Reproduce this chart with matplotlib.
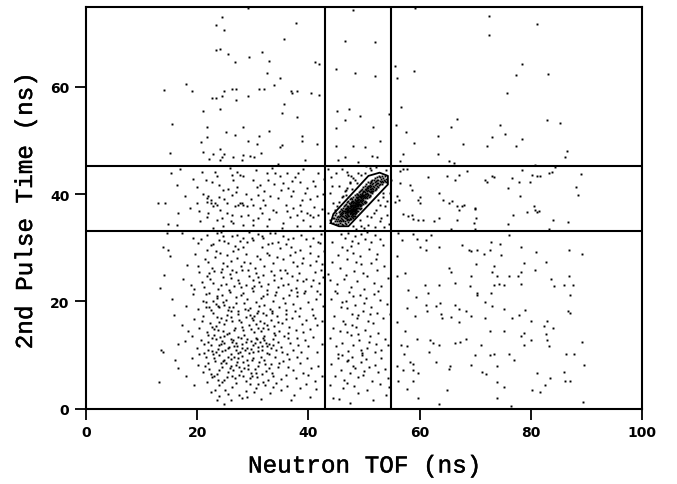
import numpy as np
import matplotlib
matplotlib.use("Agg")
import matplotlib.pyplot as plt
import matplotlib.patheffects as pe

# ---------------- data ----------------
x_ticks = [0, 20, 40, 60, 80, 100]
y_ticks = [0, 20, 40, 60]
x_label = "Neutron TOF (ns)"
y_label = "2nd Pulse Time (ns)"

tof_cuts = [43.0, 54.8]          # vertical gate lines
pulse_cuts = [33.2, 45.3]        # horizontal gate lines

# 2D gate polygon around the coincidence peak
gate_tof = [44.0, 44.5, 50.8, 52.8, 54.3, 54.3, 47.2, 45.5, 44.0]
gate_pulse = [34.6, 36.3, 43.4, 44.0, 43.4, 41.8, 34.0, 34.0, 34.6]

# events: (neutron TOF, 2nd pulse time)
upper_left = [
    (24.5,73.0),(23.3,71.5),(24.8,70.7),(37.7,71.9),(35.7,69.0),(23.3,66.8),(24.1,67.0),(25.6,66.2),
    (31.7,66.5),(26.8,64.6),(29.3,65.6),(33.0,64.9),(41.1,64.7),(41.9,64.2),(32.6,62.6),(34.9,61.7),
    (33.8,60.4),(17.9,60.6),(19.0,59.2),(14.0,59.4),(24.8,59.2),(26.2,59.7),(27.0,59.7),(31.1,59.7),
    (32.1,59.6),(36.9,59.2),(37.1,58.9),(22.7,58.0),(23.3,58.0),(24.5,58.3),(26.9,57.6),(29.1,58.3),
    (38.0,59.2),(40.5,58.9),(35.7,56.8),(24.1,55.8),(21.0,55.5),(35.3,55.2),(38.0,54.3),(15.5,53.1),
    (21.7,52.6),(28.3,52.6),(25.2,51.5),(26.8,51.0),(31.1,50.9),(33.0,51.8),(38.8,50.9),(21.7,50.6),
    (29.1,50.0),(30.7,49.4),(35.3,49.2),(24.1,48.5),(20.6,49.7),(22.9,47.5),(21.0,47.9),(24.8,47.5),
    (26.4,46.9),(28.3,47.3),(29.5,47.2),(30.3,46.9),(15.1,47.6),(22.1,46.6),(24.1,46.4),(24.5,46.9),
    (28.0,46.4),(39.4,46.4),(34.5,45.6),(41.6,49.4),(31.4,47.6),(34.9,48.7),(38.8,50.0),(41.9,58.5),
    (29.1,74.8),
]
upper_mid = [
    (48.1,74.4),(46.6,68.6),(52.0,68.4),(45.0,63.3),(48.3,62.6),(52.0,62.0),(45.2,55.5),(47.3,55.8),
    (49.3,54.6),(46.6,53.9),(51.6,52.6),(45.0,52.4),(52.8,50.0),(45.0,48.9),(48.1,48.9),(50.1,48.7),
    (51.4,47.2),(46.6,46.9),(52.4,46.9),(45.4,46.3),(54.5,54.9),(49.0,46.0),
]
upper_right = [
    (59.2,74.8),(72.4,73.2),(81.1,71.7),(72.5,69.6),(78.4,64.2),(77.3,62.2),(83.1,62.5),(75.7,58.9),
    (55.5,63.9),(55.9,61.6),(59.0,62.9),(56.6,56.2),(66.8,54.1),(74.5,52.8),(65.6,52.6),(82.9,53.9),
    (85.2,53.2),(55.7,52.8),(57.5,51.5),(63.3,50.8),(75.3,51.2),(73.0,50.7),(78.4,50.3),(67.8,49.4),
    (72.2,49.0),(77.4,49.0),(59.0,49.5),(63.3,47.4),(65.2,46.1),(66.2,45.8),(86.6,48.1),(86.2,46.9),
    (57.1,47.5),(56.4,46.1),(80.7,45.5),
]
mid_left = [
    (15.2,43.9),(16.9,44.7),(16.3,41.7),(19.9,41.4),(20.8,44.2),(21.6,42.7),(22.0,39.6),(22.4,38.9),
    (21.7,39.3),(22.6,42.2),(23.2,44.2),(23.6,43.3),(24.0,41.7),(23.2,38.3),(24.7,40.8),(25.3,38.3),
    (25.9,44.8),(26.2,43.6),(26.5,42.7),(27.1,44.2),(27.7,43.6),(28.3,43.3),(28.0,38.3),(27.4,38.0),
    (26.2,39.9),(30.1,42.7),(30.7,41.4),(31.3,41.7),(31.9,38.9),(32.5,43.9),(33.4,44.8),(34.0,43.9),
    (34.9,43.3),(35.5,42.0),(36.1,43.9),(36.4,41.1),(37.3,40.5),(38.2,43.9),(38.5,42.2),(38.8,38.9),
    (39.7,41.1),(40.9,42.4),(41.5,39.6),(41.8,43.9),(33.1,39.6),(30.1,38.0),(13.0,38.3),(14.2,38.3),
    (16.6,36.5),(18.7,37.4),(19.9,38.3),(21.7,38.6),(22.4,38.3),(22.9,37.7),(23.5,38.0),(24.1,37.1),
    (25.3,36.5),(26.2,36.1),(26.8,37.7),(27.7,38.3),(28.3,38.0),(29.2,36.1),(30.1,35.2),(20.5,34.9),
    (21.7,35.8),(23.5,35.2),(24.7,34.0),(26.5,34.6),(28.3,34.3),(31.3,37.4),(31.6,36.5),(32.2,38.0),
    (33.7,37.1),(35.5,34.6),(36.7,35.8),(37.3,37.4),(37.9,36.1),(38.5,38.0),(39.1,35.2),(39.7,36.5),
    (40.3,36.1),(40.9,35.8),(41.8,36.1),(42.1,34.0),(40.3,34.0),(37.9,34.0),(35.2,33.7),(32.5,34.0),
    (30.1,34.3),(22.9,33.7),(16.3,34.3),(14.8,34.5),(21.0,40.1),(23.9,39.5),(25.6,40.9),(27.2,41.3),
    (28.8,40.0),(29.6,39.1),(30.5,44.5),(32.0,40.6),(33.9,41.8),(34.6,39.3),(35.9,37.9),(36.8,39.7),
    (37.6,43.2),(39.0,44.6),(40.2,39.0),(41.2,41.6),(42.5,37.3),(42.8,42.9),(19.2,42.8),(17.8,39.7),
    (24.5,35.6),(26.0,35.0),(27.9,35.9),(29.0,37.8),(31.0,35.6),(33.0,35.3),(34.2,36.6),(36.2,36.8),
    (38.6,36.9),(41.0,37.6),(42.6,40.1),(20.3,36.9),(22.0,36.4),(24.9,39.0),(26.9,40.3),(30.9,39.8),
    (32.8,42.6),(35.0,40.7),(37.1,42.4),(39.3,40.2),
]
mid_mid = [
    (43.9,40.2),(44.4,38.3),(44.7,37.1),(43.5,36.5),(44.4,35.5),(43.8,35.2),(47.1,43.6),(47.7,43.3),
    (48.3,42.7),(47.4,42.0),(46.8,40.8),(46.2,39.6),(48.9,43.9),(50.4,45.2),(51.3,44.5),(52.2,45.0),
    (53.9,44.5),(54.9,42.7),(54.6,40.2),(53.7,37.7),(52.2,37.1),(51.3,35.8),(50.7,34.3),(49.5,34.0),
    (48.6,33.4),(52.8,34.9),(54.1,36.1),(52.5,38.9),(44.0,43.1),(45.5,41.5),(46.0,44.6),(53.6,33.8),
    (45.5,38.5),(46.0,39.5),(46.5,40.5),(47.0,41.2),(47.5,42.3),(48.0,43.0),(45.2,37.8),(46.8,39.8),
    (47.8,41.0),(48.7,42.0),(49.5,43.5),(50.2,44.0),(51.0,44.8),(52.8,38.0),(53.5,39.5),(54.2,38.7),
    (51.8,36.5),(50.5,36.0),(49.2,35.2),(48.0,34.0),(53.0,35.5),(54.5,34.5),(44.2,41.5),(45.0,43.9),
    (43.6,44.6),(46.9,44.2),(53.4,40.2),(50.0,33.6),(52.0,33.9),
]
peak = [
    (44.5,34.6),(44.6,35.5),(44.7,34.9),(44.8,36.1),(44.9,35.3),(45.0,34.5),(45.0,36.4),(45.1,35.7),
    (45.2,35.0),(45.3,36.0),(45.3,34.4),(45.4,35.4),(45.5,36.6),(45.5,34.9),(45.5,35.8),
    (45.6,35.2),(45.6,36.9),(45.7,34.6),(45.7,35.9),(45.8,36.5),(45.8,35.0),(45.9,37.3),(45.9,35.6),
    (46.0,34.4),(46.0,36.2),(46.0,37.0),(46.1,35.4),(46.1,36.7),(46.2,34.9),(46.2,35.9),(46.2,37.5),
    (46.3,36.4),(46.3,35.2),(46.3,34.3),(46.4,36.9),(46.4,35.7),(46.4,37.8),(46.5,36.1),(46.5,34.7),
    (46.5,35.5),(46.5,37.2),(45.9,36.1),(46.1,35.9),(46.3,36.8),(45.7,36.3),
    (46.6,36.5),(46.6,35.0),(46.6,37.9),(46.7,36.0),(46.7,37.3),(46.7,34.5),(46.8,36.7),(46.8,35.5),
    (46.8,38.2),(46.9,36.3),(46.9,37.0),(46.9,35.2),(47.0,36.8),(47.0,38.5),(47.0,35.8),(47.0,37.4),
    (47.1,36.1),(47.1,34.8),(47.1,37.8),(47.2,36.6),(47.2,35.4),(47.2,37.1),(47.2,38.8),(47.3,36.0),
    (47.3,37.5),(47.3,36.9),(47.4,35.6),(47.4,38.1),(47.4,36.4),(47.4,37.0),(47.5,36.8),(47.5,35.3),
    (47.5,37.7),(47.5,39.0),(46.6,36.9),(46.8,37.5),(47.0,36.2),(47.2,36.0),(47.4,37.4),(46.9,37.7),
    (47.1,36.6),(47.3,35.2),(46.7,36.6),(47.5,36.2),(47.1,37.3),(46.9,36.7),(47.3,38.4),(47.0,35.3),
    (47.2,37.6),(47.4,36.8),
    (47.6,37.2),(47.6,36.0),(47.6,38.4),(47.6,35.4),(47.7,37.6),(47.7,36.5),(47.7,39.2),(47.7,37.0),
    (47.8,36.2),(47.8,38.0),(47.8,37.3),(47.8,35.7),(47.9,37.8),(47.9,36.8),(47.9,38.7),(47.9,36.1),
    (48.0,37.4),(48.0,36.5),(48.0,38.3),(48.0,39.5),(48.0,35.5),(48.1,37.0),(48.1,38.0),(48.1,36.3),
    (48.1,37.6),(48.2,38.6),(48.2,36.9),(48.2,37.3),(48.2,35.9),(48.3,37.9),(48.3,36.6),(48.3,39.0),
    (48.3,37.2),(48.4,38.3),(48.4,36.2),(48.4,37.7),(48.4,39.8),(48.5,37.0),(48.5,38.1),(48.5,36.5),
    (48.5,38.8),(47.6,36.7),(47.8,38.5),(48.0,37.0),(48.2,37.9),(48.4,37.1),(47.7,37.9),(47.9,37.3),
    (48.1,38.8),(48.3,36.0),(47.6,37.8),(48.0,38.0),(48.2,36.4),(48.4,38.9),(47.8,36.7),(48.1,37.3),
    (48.3,38.4),(47.9,37.0),(48.5,37.5),(47.7,38.5),(48.2,37.6),(48.0,36.9),(48.4,36.8),(47.8,39.0),
    (48.1,36.0),(48.3,37.6),
    (48.6,38.3),(48.6,37.2),(48.6,39.4),(48.6,36.6),(48.7,38.0),(48.7,38.9),(48.7,37.5),(48.7,40.1),
    (48.8,37.8),(48.8,38.6),(48.8,36.9),(48.8,39.3),(48.9,38.2),(48.9,37.4),(48.9,39.8),(48.9,38.9),
    (49.0,38.5),(49.0,37.7),(49.0,39.4),(49.0,36.9),(49.1,38.1),(49.1,39.0),(49.1,40.3),(49.1,37.5),
    (49.2,38.8),(49.2,38.2),(49.2,39.6),(49.3,37.9),(49.3,38.9),(49.3,40.5),(49.3,37.3),(49.4,39.2),
    (49.4,38.5),(49.4,39.9),(49.5,38.0),(49.5,39.5),(49.5,38.9),(49.5,40.8),(48.6,38.8),(48.8,38.1),
    (49.0,39.0),(49.2,37.7),(49.4,38.0),(48.7,39.5),(48.9,37.9),(49.1,38.6),(49.3,39.4),(48.6,37.8),
    (49.0,38.2),(49.2,40.0),(49.4,37.5),(48.8,40.0),(49.1,39.6),(48.9,38.5),
    (49.6,39.0),(49.6,40.2),(49.6,38.3),(49.7,39.6),(49.7,38.7),(49.7,41.0),(49.8,39.3),(49.8,40.4),
    (49.8,38.1),(49.9,39.9),(49.9,38.9),(49.9,41.3),(50.0,39.5),(50.0,40.6),(50.0,38.5),(50.1,40.0),
    (50.1,39.2),(50.1,41.6),(50.2,40.3),(50.2,38.8),(50.2,39.7),(50.3,40.8),(50.3,39.4),(50.3,41.9),
    (50.4,40.1),(50.4,38.6),(50.5,40.5),(50.5,39.6),(50.5,41.2),(49.7,40.0),(49.9,40.5),(50.1,38.4),
    (50.3,40.1),(50.0,39.9),(49.6,39.6),(50.4,40.9),(49.8,39.7),(50.2,41.0),
    (50.6,40.2),(50.6,41.4),(50.6,39.3),(50.7,40.8),(50.7,39.8),(50.8,41.1),(50.8,40.0),(50.8,42.2),
    (50.9,40.6),(50.9,39.5),(51.0,41.3),(51.0,40.3),(51.0,42.0),(51.1,40.9),(51.1,39.9),(51.2,41.6),
    (51.2,40.5),(51.3,42.4),(51.3,41.0),(51.4,40.2),(51.4,41.8),(51.5,41.2),(51.5,40.6),(51.5,42.6),
    (50.7,41.6),(50.9,41.5),(51.1,41.7),(51.3,40.4),(51.0,39.7),(51.2,42.2),
    (51.6,41.5),(51.6,40.6),(51.7,42.1),(51.7,41.0),(51.8,42.7),(51.8,41.4),(51.9,40.8),(51.9,42.2),
    (52.0,41.7),(52.0,43.0),(52.1,41.2),(52.1,42.4),(52.2,41.9),(52.2,40.9),(52.3,42.7),(52.3,41.5),
    (52.4,43.2),(52.4,42.0),(52.5,41.4),(52.5,42.6),
    (52.6,42.1),(52.7,43.4),(52.7,41.7),(52.8,42.5),(52.9,41.9),(52.9,43.1),(53.0,42.3),(53.1,42.8),
    (53.2,41.8),(53.2,43.4),(53.3,42.4),(53.4,43.0),(53.5,42.2),(53.6,42.7),(53.7,43.3),(53.8,42.5),
    (53.9,42.9),(54.0,42.3),
]
mid_right = [
    (56.5,44.4),(57.1,44.7),(57.7,44.7),(61.6,43.2),(64.9,43.4),(66.4,42.7),(67.0,43.6),(68.5,44.4),
    (71.8,42.7),(72.1,42.2),(73.0,43.3),(73.3,43.2),(76.6,43.0),(77.8,42.2),(78.4,44.5),(79.9,42.2),
    (80.2,43.6),(81.1,43.4),(81.7,43.4),(83.2,44.0),(83.8,44.2),(84.3,45.0),(89.1,43.7),(88.2,41.4),
    (88.4,39.9),(56.5,42.0),(58.2,41.7),(58.7,40.7),(60.0,39.4),(63.5,40.2),(64.2,38.9),(65.2,38.3),
    (65.8,38.8),(66.7,37.7),(67.9,38.0),(70.0,37.4),(75.9,41.1),(78.1,39.6),(55.9,39.6),(56.3,38.9),
    (59.8,38.9),(60.1,38.3),(55.6,38.6),(67.7,37.8),(67.1,37.1),(69.9,37.3),(57.1,36.3),(58.0,36.0),
    (58.6,36.1),(58.9,35.4),(59.8,35.2),(60.7,35.1),(62.6,34.9),(63.4,35.5),(66.8,35.1),(69.7,34.6),
    (70.1,35.5),(75.9,34.5),(76.8,36.1),(79.3,36.6),(80.8,37.0),(81.1,36.6),(84.0,35.1),(86.7,34.8),
    (83.2,33.5),(70.0,33.4),(65.6,33.4),(80.6,37.8),(81.5,36.8),
]
low_left = [
    (14.6,32.7),(17.2,32.7),(19.3,31.8),(21.7,32.4),(23.5,32.7),(24.7,32.2),(26.2,32.1),(27.1,32.4),
    (28.3,31.8),(30.1,31.5),(31.6,32.1),(33.1,32.7),(34.0,32.7),(35.5,32.1),(36.4,31.6),(37.3,31.8),
    (41.8,31.0),(27.7,31.2),(28.9,31.0),(22.4,30.5),(25.6,30.8),(29.4,32.9),(32.8,30.6),(38.6,32.4),
    (40.2,30.4),(42.3,32.5),(23.9,31.4),(26.8,30.3),(30.9,32.6),(34.6,31.1),(36.9,30.2),(39.5,31.7),
    (20.1,30.9),(31.9,31.9),(24.3,32.9),
    (13.9,30.2),(14.8,29.6),(22.9,30.6),(24.1,29.0),(26.5,29.3),(28.3,30.2),(27.1,28.1),(24.7,27.1),
    (21.7,29.6),(31.6,30.2),(32.5,29.0),(34.9,29.9),(36.7,28.7),(38.5,29.6),(40.3,29.0),(41.8,28.4),
    (42.1,30.9),(18.1,26.8),(20.2,26.5),(25.3,26.5),(29.5,27.1),(31.3,27.8),(33.7,27.1),(35.5,27.8),
    (37.9,26.5),(40.3,26.8),(34.9,25.9),(15.1,28.4),(23.2,28.3),(26.0,27.6),(28.8,28.9),(30.4,26.2),
    (22.0,27.3),(37.2,27.4),(39.1,28.1),(42.5,26.9),(33.0,28.6),(24.4,26.0),(27.8,26.6),(19.6,28.9),
    (14.0,25.0),(13.3,22.5),(17.5,24.2),(18.8,23.0),(20.4,25.5),(21.2,22.6),(22.3,24.1),(23.1,25.7),
    (23.8,22.3),(24.6,24.6),(25.2,23.3),(25.9,25.1),(26.6,22.8),(27.3,24.0),(28.0,25.8),(28.7,23.1),
    (29.3,24.7),(29.9,22.4),(30.6,25.3),(31.2,23.6),(31.9,24.9),(32.5,22.1),(33.2,25.6),(33.8,23.9),
    (34.5,22.7),(35.1,24.4),(35.8,25.9),(36.4,23.2),(37.0,24.8),(37.7,22.5),(38.3,25.2),(39.0,23.7),
    (39.6,24.1),(40.4,22.9),(41.1,25.4),(41.9,23.5),(42.6,24.6),(22.8,23.5),(26.1,24.3),(30.1,23.9),
    (33.9,25.0),(36.9,22.2),(24.2,25.4),(27.9,22.6),(31.5,22.9),(21.8,24.8),(19.5,22.3),(40.8,24.0),
    (15.5,20.5),(17.9,19.2),(19.3,21.4),(20.2,18.6),(21.0,20.1),(21.6,19.8),(22.1,21.5),(22.5,18.3),
    (22.9,20.0),(23.3,19.5),(23.6,20.6),(24.0,18.9),(24.4,21.1),(24.8,19.3),(25.1,20.2),(25.5,18.4),
    (25.9,21.7),(26.4,19.0),(26.9,20.8),(27.4,18.2),(27.9,21.2),(28.4,19.6),(28.9,20.5),(29.5,18.7),
    (30.0,21.9),(30.5,19.8),(31.0,18.1),(31.5,20.7),(32.0,19.3),(32.6,21.4),(33.1,18.6),(33.7,20.1),
    (34.2,21.8),(34.8,19.0),(35.4,20.6),(36.0,18.3),(36.6,21.2),(37.2,19.5),(37.9,20.9),(38.5,18.8),
    (39.2,21.6),(39.9,19.9),(40.6,18.5),(41.3,20.4),(42.0,21.3),(42.6,19.1),(23.8,19.2),(24.6,19.9),
    (22.2,19.0),(29.2,18.4),(31.8,21.0),(35.8,19.6),(27.0,19.7),(33.5,18.2),(38.0,21.8),(25.8,18.9),
    (15.8,17.5),(17.2,15.6),(18.3,14.5),(19.4,16.7),(20.3,15.1),(21.1,17.2),(21.7,14.3),(22.3,16.0),
    (22.8,17.8),(23.3,15.4),(23.8,14.7),(24.3,16.9),(24.8,15.8),(25.3,17.4),(25.8,14.1),(26.3,16.3),
    (26.8,15.0),(27.3,17.7),(27.8,16.1),(28.3,14.6),(28.8,17.1),(29.3,15.5),(29.8,16.8),(30.3,14.2),
    (30.8,17.9),(31.3,16.4),(31.8,15.1),(32.3,17.5),(32.8,14.8),(33.3,16.6),(33.8,15.3),(34.3,17.3),
    (34.8,14.4),(35.3,16.0),(35.9,17.6),(36.5,15.2),(37.1,16.9),(37.7,14.6),(38.3,17.2),(38.9,15.7),
    (39.5,16.5),(40.2,14.9),(40.9,17.4),(41.6,15.6),(42.4,16.3),(24.0,16.2),(26.0,17.0),(28.0,15.2),
    (30.0,16.6),(31.9,17.8),(33.9,14.0),(36.0,16.7),(23.0,14.9),(29.5,17.5),(31.0,15.0),(32.0,16.0),
    (30.6,15.7),(31.4,14.5),
    (13.5,11.0),(13.8,10.5),(16.5,12.0),(17.8,12.6),(19.0,13.5),(19.9,11.2),(20.6,12.8),(21.3,10.4),
    (21.9,13.7),(22.4,11.8),(22.9,10.2),(23.3,12.9),(23.7,11.1),(24.1,13.3),(24.5,10.7),(24.9,12.3),
    (25.3,13.9),(25.7,11.5),(26.1,10.1),(26.5,12.7),(26.9,11.0),(27.3,13.4),(27.7,10.6),(28.1,12.1),
    (28.5,13.8),(28.9,11.3),(29.3,10.3),(29.7,12.6),(30.1,11.9),(30.5,13.1),(30.9,10.8),(31.3,12.4),
    (31.7,11.6),(32.1,13.6),(32.5,10.4),(32.9,12.0),(33.3,11.2),(33.7,13.0),(34.1,10.9),(34.6,12.5),
    (35.1,11.4),(35.6,13.5),(36.1,10.2),(36.7,12.2),(37.3,11.0),(37.9,13.2),(38.6,10.6),(39.3,12.8),
    (40.0,11.7),(40.8,13.4),(41.6,10.5),(42.4,12.1),(22.0,12.5),(23.0,13.8),(24.0,11.9),(25.0,10.9),
    (26.0,13.0),(27.0,12.2),(28.0,11.2),(29.0,12.9),(30.0,10.6),(31.0,11.4),(32.0,12.8),(33.0,10.1),
    (34.0,13.7),(26.6,11.7),(28.6,10.9),(24.4,12.6),(30.4,12.3),(32.6,11.7),(22.6,10.8),(27.4,10.3),
    (31.9,13.2),
    (13.2,5.0),(16.0,9.0),(16.5,7.5),(17.9,6.1),(19.0,9.5),(20.1,8.2),(21.0,6.8),(21.6,9.6),
    (22.2,7.4),(22.7,5.9),(23.2,8.9),(23.6,6.5),(24.0,9.9),(24.4,7.8),(24.8,5.3),(25.2,8.4),
    (25.6,6.9),(26.0,9.3),(26.4,7.1),(26.8,5.6),(27.2,8.7),(27.6,6.2),(28.0,9.8),(28.4,7.5),
    (28.8,5.1),(29.2,8.1),(29.6,6.6),(30.0,9.4),(30.4,7.3),(30.8,5.8),(31.2,8.6),(31.6,6.4),
    (32.0,9.1),(32.4,7.0),(32.8,5.4),(33.2,8.3),(33.6,6.0),(34.0,9.7),(34.5,7.7),(35.0,5.5),
    (35.5,8.8),(36.0,6.3),(36.6,9.2),(37.2,7.2),(37.8,5.7),(38.4,8.5),(39.0,6.7),(39.7,9.5),
    (40.4,7.6),(41.1,5.2),(41.8,8.0),(42.5,6.1),(23.9,7.2),(24.9,9.0),(25.9,7.6),(26.9,8.2),
    (27.9,7.0),(28.9,9.0),(29.9,6.1),(30.9,8.0),(31.9,5.0),(33.0,7.5),(24.2,8.4),(26.2,6.0),
    (28.2,8.7),(25.5,9.6),(27.3,9.4),(23.1,6.0),(29.5,5.6),(22.0,8.5),
    (19.5,4.3),(23.5,1.5),(24.8,0.8),(23.2,3.5),(24.0,4.4),(25.6,2.7),(26.3,4.1),(27.5,2.5),
    (28.7,3.2),(29.5,4.6),(30.6,3.9),(31.5,1.8),(32.2,4.3),(33.1,2.9),(34.2,4.8),(35.0,3.5),
    (36.2,4.2),(37.4,2.6),(38.5,3.8),(39.6,4.5),(40.3,2.2),(41.4,3.6),(25.0,3.5),(27.0,4.8),
    (28.0,1.9),
    (20.7,31.6),(21.4,27.9),(22.6,26.2),(23.4,29.4),(24.9,31.2),(25.4,28.7),(26.3,25.8),(27.4,29.8),
    (28.5,27.4),(29.8,31.9),(30.7,28.4),(32.1,26.6),(33.5,30.9),(34.4,28.2),(35.9,30.6),(37.6,29.2),
    (38.9,27.1),(40.8,31.8),(41.4,27.6),(42.8,29.3),
    (20.9,23.6),(21.6,21.4),(22.1,25.2),(23.5,21.0),(24.3,23.0),(25.7,22.1),(26.9,25.5),(27.6,23.4),
    (28.3,21.6),(29.1,25.9),(30.3,22.8),(31.0,24.6),(32.8,23.2),(34.0,21.2),(35.5,23.0),(36.2,25.3),
    (38.0,23.9),(39.4,22.0),(41.5,21.9),(42.2,25.8),
    (20.8,16.4),(21.5,18.9),(22.6,15.2),(23.5,17.1),(24.6,14.4),(25.1,16.5),(26.1,18.1),(26.7,14.7),
    (27.6,16.6),(28.6,18.5),(29.6,14.8),(30.2,17.2),(31.1,19.2),(32.5,15.6),(33.4,17.9),(34.6,16.2),
    (36.3,14.1),(37.5,18.1),(39.1,14.3),(41.1,16.9),
    (20.4,10.2),(21.2,12.1),(22.0,11.0),(22.7,13.1),(23.4,10.5),(24.2,12.0),(24.8,13.6),(25.5,11.2),
    (26.3,12.4),(27.1,11.6),(27.9,13.1),(28.7,12.5),(29.6,11.1),(30.7,12.9),(31.6,10.9),(32.3,12.2),
    (33.6,11.9),(35.3,10.6),(36.4,13.1),(38.2,11.9),
    (21.4,7.9),(22.4,6.4),(23.0,9.4),(23.8,5.4),(24.6,8.8),(25.4,5.9),(26.1,8.0),(26.7,9.7),
    (27.5,7.8),(28.3,6.0),(29.1,7.3),(29.8,9.0),(30.6,6.7),(31.4,9.6),(32.2,8.3),(33.4,6.6),
    (34.8,8.4),(36.3,7.8),(38.0,9.6),(40.0,6.2),
    (22.5,3.0),(23.9,2.4),(26.0,1.6),(29.0,2.2),(30.2,3.1),(33.6,4.0),(36.8,1.6),(24.5,5.0),
    (31.0,4.6),(21.7,4.9),
]
low_mid = [
    (45.8,32.5),(46.5,31.9),(47.2,32.8),(47.9,31.3),(48.4,32.2),(48.9,30.8),(49.5,32.6),(50.1,31.7),
    (50.6,32.9),(51.3,31.1),(52.0,32.4),(52.8,31.6),(53.5,30.5),(44.2,31.0),(46.9,29.5),(48.1,29.0),
    (49.2,28.4),(50.9,29.8),(45.3,28.6),(52.4,28.9),(47.6,30.4),(46.0,30.1),
    (43.6,25.1),(44.3,27.4),(45.1,23.2),(45.7,26.2),(46.4,24.1),(47.0,27.8),(47.6,22.6),(48.2,25.6),
    (48.8,23.8),(49.4,26.9),(50.0,22.3),(50.6,24.7),(51.2,27.2),(51.8,23.5),(52.4,25.9),(53.0,22.8),
    (53.6,26.5),(54.3,24.3),(46.8,25.0),(49.9,25.3),(44.8,22.0),(52.2,27.9),(48.5,27.3),(43.9,23.9),
    (44.0,20.5),(44.6,17.3),(45.2,21.6),(45.8,18.9),(46.3,16.4),(46.8,20.1),(47.3,21.8),(47.8,17.6),
    (48.3,19.4),(48.8,16.8),(49.3,21.1),(49.8,18.2),(50.3,20.7),(50.8,16.3),(51.3,19.0),(51.8,21.4),
    (52.3,17.9),(52.9,20.2),(53.5,16.9),(54.2,19.5),(47.0,18.7),(49.0,17.4),(50.0,19.6),(48.0,21.0),
    (51.0,17.7),(46.0,19.9),(52.6,21.9),(54.6,17.7),
    (43.8,13.2),(44.4,15.1),(45.0,11.6),(45.6,14.4),(46.1,12.3),(46.6,15.7),(47.1,10.8),(47.6,13.8),
    (48.1,11.9),(48.6,15.2),(49.1,12.7),(49.6,10.4),(50.1,14.6),(50.6,11.3),(51.1,13.5),(51.6,15.9),
    (52.1,12.1),(52.6,14.1),(53.1,10.9),(53.7,13.0),(54.3,11.8),(46.9,14.3),(48.9,13.9),(50.9,12.5),
    (45.3,10.2),(47.9,15.5),(49.4,11.0),(51.9,10.6),
    (44.1,8.3),(44.7,6.0),(45.3,9.4),(45.9,7.1),(46.4,5.4),(46.9,8.8),(47.4,6.6),(47.9,9.7),
    (48.4,7.5),(48.9,5.8),(49.4,8.6),(49.9,6.3),(50.4,9.2),(50.9,7.8),(51.4,5.2),(51.9,8.1),
    (52.5,6.8),(53.1,9.5),(53.8,7.3),(54.4,5.6),(46.0,9.9),(48.0,8.0),(50.0,7.0),(47.2,9.1),
    (49.6,9.9),
    (43.8,4.3),(44.5,2.0),(45.5,1.7),(46.3,3.8),(47.5,1.1),(48.2,4.2),(49.0,2.9),(50.5,3.4),
    (51.6,1.6),(52.8,4.6),(53.9,2.5),(54.5,4.0),(46.9,4.8),
]
low_right = [
    (56.2,32.7),(56.9,31.5),(58.9,32.6),(62.0,32.4),(59.5,31.6),(61.1,31.4),(60.1,30.2),(61.1,29.5),
    (63.4,30.1),(67.6,30.5),(68.8,29.5),(69.2,29.3),(70.3,29.6),(72.8,31.1),(74.5,30.7),(76.1,32.3),
    (78.2,30.1),(81.0,29.2),(86.8,29.6),(89.2,28.9),(71.5,28.9),(72.6,29.5),(74.6,28.7),(55.9,28.5),
    (70.1,26.9),(73.3,26.5),(78.8,27.1),(82.7,27.3),(80.7,25.9),(65.2,26.3),(65.7,25.5),(73.0,25.5),
    (78.3,25.5),(73.9,24.7),(69.2,24.7),(76.0,24.8),(77.7,24.8),(55.9,24.8),(57.4,25.2),(61.0,23.1),
    (63.5,23.1),(66.3,23.4),(69.0,22.9),(73.3,23.1),(74.2,23.3),(75.2,23.1),(78.3,23.2),(83.7,24.1),
    (86.9,24.7),(84.1,22.8),(85.9,23.0),(87.5,23.0),(58.0,22.2),(61.5,21.6),(70.3,21.6),(72.8,21.6),
    (59.3,20.8),(70.3,21.1),(87.0,21.1),(71.8,19.8),(73.0,19.2),(57.7,18.8),(61.1,19.4),(62.9,19.2),
    (63.7,19.6),(66.4,19.3),(67.0,18.6),(61.3,18.1),(63.8,17.7),(65.6,17.0),(68.3,18.1),(69.2,17.3),
    (59.1,17.2),(64.0,16.9),(67.1,16.1),(71.8,16.8),(75.1,18.6),(77.9,17.4),(76.7,16.9),(79.0,18.3),
    (80.0,16.3),(82.3,15.3),(83.0,16.3),(84.0,15.0),(86.7,18.1),(55.9,16.1),(57.4,14.4),(59.6,12.9),
    (61.9,12.8),(62.4,12.2),(63.4,11.9),(66.4,12.2),(67.3,12.5),(68.3,12.9),(71.0,11.9),(72.7,14.5),
    (75.2,14.4),(78.3,13.5),(78.8,14.1),(80.0,12.7),(82.7,13.9),(83.0,12.7),(83.3,11.6),(78.8,11.8),
    (56.7,11.9),(57.8,11.6),(61.7,10.5),(57.2,10.1),(70.0,9.9),(72.7,10.0),(73.4,10.1),(76.0,10.2),
    (77.0,9.1),(86.3,10.2),(87.8,10.2),(89.2,12.4),(55.9,8.0),(58.3,8.6),(58.9,8.3),(62.9,8.6),
    (65.5,8.0),(65.2,7.3),(69.2,8.1),(71.3,6.9),(72.0,6.5),(73.9,8.0),(81.2,6.7),(83.4,5.7),
    (86.0,6.8),(89.5,8.2),(57.1,7.1),(58.9,7.1),(59.8,6.6),(56.2,5.1),(58.9,5.2),(57.7,3.7),
    (65.0,3.5),(73.9,4.9),(75.2,4.0),(80.2,3.4),(81.7,3.0),(82.6,4.4),(87.0,5.1),(59.8,2.0),
    (63.4,0.8),(73.9,2.0),(76.4,0.4),(89.3,1.2),(87.0,17.8),(86.2,5.1),
]

event_groups = [upper_left, upper_mid, upper_right, mid_left, mid_mid, peak,
                mid_right, low_left, low_mid, low_right]

# ---------------- figure ----------------
W, H = 677, 485
fig = plt.figure(figsize=(W / 100, H / 100), dpi=100)
ax = fig.add_axes([86 / W, 1 - 409.5 / H, 556 / W, 402 / H])

for grp in event_groups:
    arr = np.array(grp)
    ax.plot(arr[:, 0], arr[:, 1], linestyle="none", marker="s", ms=1.4,
            mew=0, color="black")

for xc in tof_cuts:
    ax.axvline(xc, color="black", lw=1.5)
for yc in pulse_cuts:
    ax.axhline(yc, color="black", lw=1.5)
ax.plot(gate_tof, gate_pulse, color="black", lw=1.3)

ax.set_xlim(0, 100)
ax.set_ylim(0, 75)
ax.set_xticks(x_ticks)
ax.set_yticks(y_ticks)
ax.tick_params(direction="out", length=8, width=1.3, pad=4,
               top=False, right=False)
for lab in ax.get_xticklabels() + ax.get_yticklabels():
    lab.set_fontfamily("DejaVu Sans")
    lab.set_fontweight("bold")
    lab.set_fontsize(10)
for sp in ax.spines.values():
    sp.set_linewidth(1.5)

label_fx = [pe.withStroke(linewidth=0.3, foreground="black")]
ax.set_xlabel(x_label, family="Liberation Mono", fontsize=17.5, path_effects=label_fx)
ax.set_ylabel(y_label, family="Liberation Mono", fontsize=17.5, path_effects=label_fx)
ax.xaxis.set_label_coords(0.5, -(467 - 409.5) / 402)
ax.xaxis.label.set_va("center")
ax.yaxis.set_label_coords((25.5 - 86) / 556, 0.49)
ax.yaxis.label.set_va("center")

fig.savefig("out.png", dpi=100)
